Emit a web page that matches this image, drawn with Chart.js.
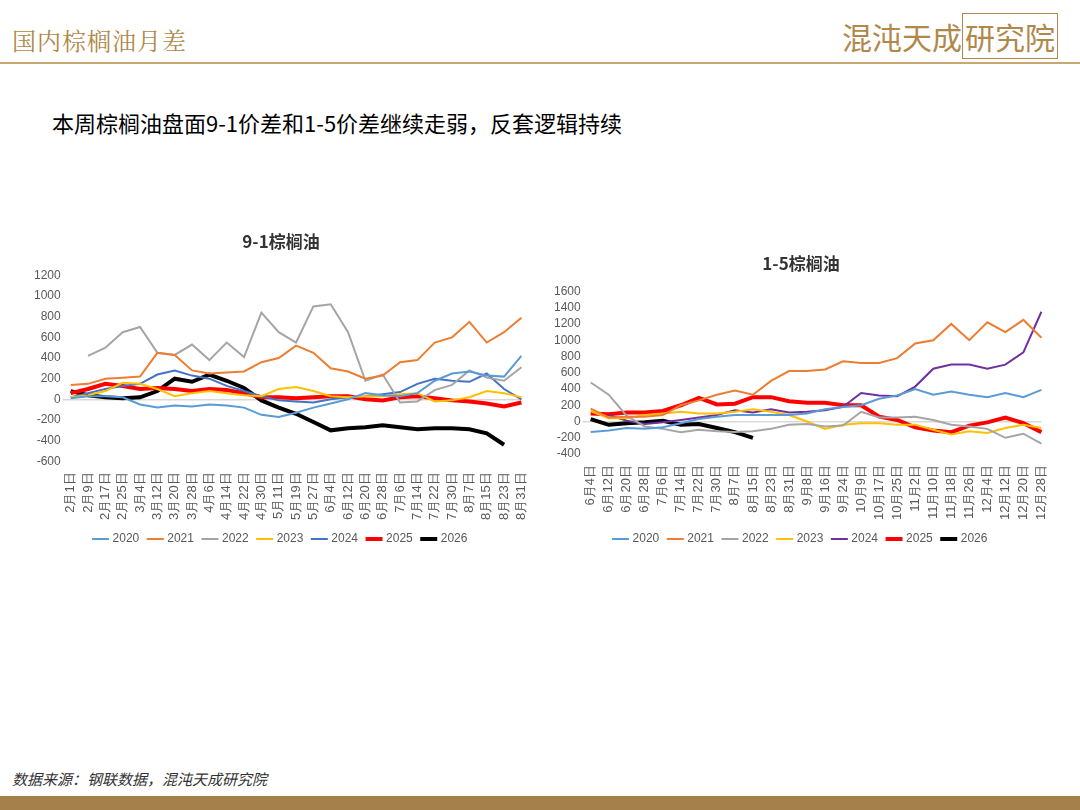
<!DOCTYPE html>
<html><head><meta charset="utf-8">
<script src="https://cdn.jsdelivr.net/npm/chart.js@4.4.0/dist/chart.umd.min.js"></script>
<style>
body{margin:0;width:1080px;height:810px;background:#fff;position:relative;overflow:hidden;font-family:"Noto Sans CJK SC",sans-serif;}
#head{position:absolute;left:12px;top:22px;font-size:24px;color:#B0884A;letter-spacing:1px;font-family:"Noto Serif CJK SC","Noto Sans CJK SC",serif;}
#logo{position:absolute;right:22px;top:14px;font-size:30px;color:#B0884A;}
#hl{position:absolute;left:0;top:62px;width:1080px;height:2px;background:#C8A770;}
#sub{position:absolute;left:52px;top:106px;font-size:22px;color:#000;}
#src{position:absolute;left:12px;top:768px;font-size:15px;color:#333;font-style:italic;}
#foot{position:absolute;left:0;top:796px;width:1080px;height:14px;background:#A6804A;}
.c{position:absolute;}
</style></head><body>
<div id="head">国内棕榈油月差</div>
<div id="logo">混沌天成<span style="border:1px solid #B0884A;padding:0 2px">研究院</span></div>
<div id="hl"></div>
<div id="sub">本周棕榈油盘面9-1价差和1-5价差继续走弱，反套逻辑持续</div>
<div class="c" style="left:32px;top:231px;width:508px;height:324px"><canvas id="c1"></canvas></div>
<div class="c" style="left:552px;top:253px;width:508px;height:302px"><canvas id="c2"></canvas></div>
<div id="src">数据来源：钢联数据，混沌天成研究院</div>
<div id="foot"></div>
<script>
const years = ["2020","2021","2022","2023","2024","2025","2026"];

const labels91 = ["2月1日","2月9日","2月17日","2月25日","3月4日","3月12日","3月20日","3月28日","4月6日","4月14日","4月22日","4月30日","5月11日","5月19日","5月27日","6月4日","6月12日","6月20日","6月28日","7月6日","7月14日","7月22日","7月30日","8月7日","8月15日","8月23日","8月31日"];
const s91_2020 = [10,30,30,20,-50,-80,-60,-70,-50,-60,-80,-150,-170,-130,-80,-40,0,60,40,30,60,180,250,270,230,220,420];
const s91_2021 = [140,150,200,210,220,450,430,280,250,260,270,360,400,520,450,300,270,200,230,360,380,550,600,750,550,650,790];
const s91_2022 = [null,420,500,650,700,450,430,530,380,550,410,840,650,550,900,920,650,180,240,-30,-20,90,140,280,210,180,310];
const s91_2023 = [20,40,80,160,150,100,30,60,80,60,40,30,100,120,80,30,20,30,30,50,60,-20,-10,20,80,60,20];
const s91_2024 = [20,60,100,130,150,240,280,230,200,130,80,30,-10,-20,-30,0,20,30,50,70,150,200,180,170,250,100,0];
const s91_2025 = [60,100,150,130,100,110,100,80,100,90,60,20,20,10,20,30,30,0,-10,20,30,10,-10,-20,-40,-70,-30];
const s91_2026 = [80,40,20,10,20,80,200,170,240,180,110,-10,-80,-140,-220,-300,-280,-270,-250,-270,-290,-280,-280,-290,-330,-440,null];

const labels15 = ["6月4日","6月12日","6月20日","6月28日","7月6日","7月14日","7月22日","7月30日","8月7日","8月15日","8月23日","8月31日","9月8日","9月16日","9月24日","10月9日","10月17日","10月25日","11月2日","11月10日","11月18日","11月26日","12月4日","12月12日","12月20日","12月28日"];
const s15_2020 = [-130,-110,-80,-90,-70,-20,30,60,80,80,80,80,100,150,180,200,280,320,400,330,370,330,300,350,300,390];
const s15_2021 = [160,50,60,60,80,200,260,330,380,330,500,620,620,640,740,720,720,780,960,1000,1200,1000,1220,1100,1250,1030];
const s15_2022 = [480,330,70,-60,-90,-130,-100,-120,-130,-120,-90,-40,-30,-60,-50,120,50,50,60,20,-40,-60,-90,-200,-150,-270];
const s15_2023 = [130,40,40,80,100,120,100,100,120,150,120,80,0,-90,-40,-20,-20,-40,-40,-100,-160,-120,-140,-80,-40,-80];
const s15_2024 = [null,80,10,-30,-10,20,50,80,140,110,150,110,120,140,180,350,320,310,430,650,700,700,650,700,850,1350];
const s15_2025 = [100,90,110,110,130,200,290,210,220,300,300,250,230,230,200,200,60,20,-70,-110,-130,-50,-10,50,-20,-130];
const s15_2026 = [30,-40,-20,-10,10,-40,-30,-80,-130,-200,null,null,null,null,null,null,null,null,null,null,null,null,null,null,null,null];

const colors = ["#5B9BD5","#ED7D31","#A5A5A5","#FFC000","#4472C4","#FF0000","#000000"];
const colors15 = ["#5B9BD5","#ED7D31","#A5A5A5","#FFC000","#7030A0","#FF0000","#000000"];
const widths = [2,2,2,2,2,4,4];

function makeChart(id, title, labels, series, cols, min, max, titlePad, yFont) {
	new Chart(document.getElementById(id), {
		type: "line",
		data: {
			labels: labels,
			datasets: series.map((d, i) => ({
				label: years[i], data: d, borderColor: cols[i], backgroundColor: cols[i],
				borderWidth: widths[i], pointRadius: 0, tension: 0, spanGaps: false,
			})),
		},
		options: {
			responsive: true, maintainAspectRatio: false, animation: false,
			layout: { padding: { left: 0, right: 10 } },
			plugins: {
				title: { display: true, text: title, color: "#333", font: { size: 17, weight: "bold", family: "Noto Sans CJK SC" }, padding: { bottom: titlePad } },
				legend: {
					position: "bottom",
					labels: { usePointStyle: true, pointStyle: "line", boxWidth: 30, color: "#595959", font: { size: 12 }, padding: 10 },
				},
			},
			scales: {
				x: {
					grid: { display: false },
					border: { display: false },
					ticks: { autoSkip: false, maxRotation: 90, minRotation: 90, color: "#595959", font: { size: 13 } },
				},
				y: {
					min: min, max: max,
					border: { display: false },
					grid: { color: (c) => (c.tick.value === 0 ? "#D9D9D9" : "transparent"), lineWidth: 1.5 },
					ticks: { stepSize: 200, autoSkip: false, padding: 2, color: "#595959", font: { size: yFont }, callback: (v) => String(v) },
				},
			},
		},
	});
}

makeChart("c1", "9-1棕榈油", labels91, [s91_2020,s91_2021,s91_2022,s91_2023,s91_2024,s91_2025,s91_2026], colors, -600, 1200, 24, 12);
makeChart("c2", "1-5棕榈油", labels15, [s15_2020,s15_2021,s15_2022,s15_2023,s15_2024,s15_2025,s15_2026], colors15, -400, 1600, 18, 12);
</script>
</body></html>
